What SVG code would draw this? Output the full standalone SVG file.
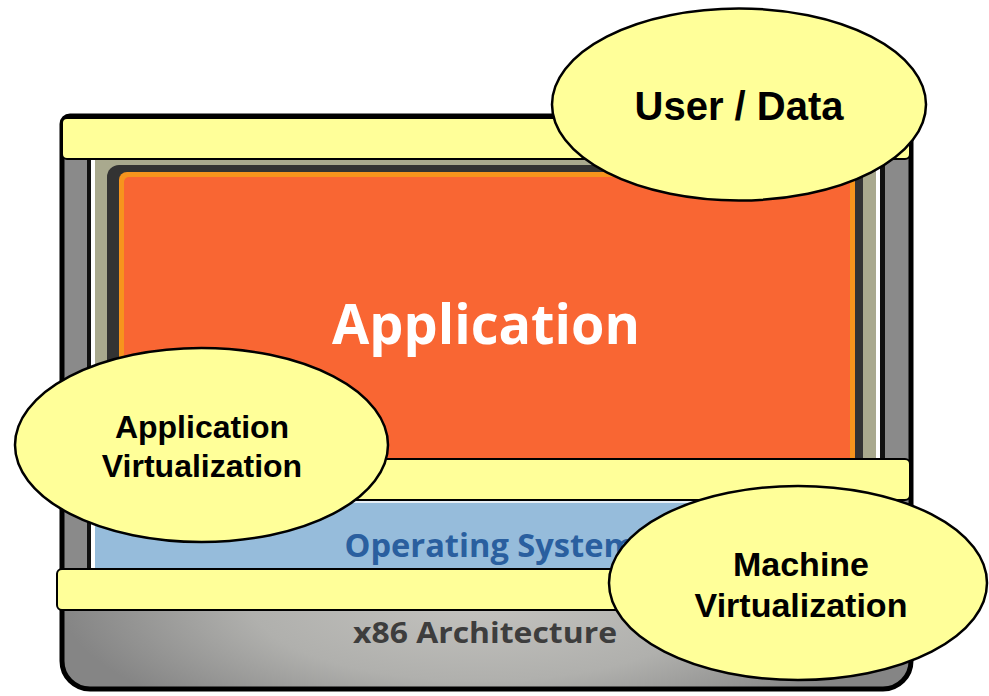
<svg xmlns="http://www.w3.org/2000/svg" width="989" height="696" viewBox="0 0 989 696">
<defs>
<style>
.bar{fill:#ffff99;stroke:#000;stroke-width:2}
.ell{fill:#ffff99;stroke:#000;stroke-width:2.5}
.lbl{font-family:"Liberation Sans",Arial,sans-serif;font-weight:bold;fill:#000;text-anchor:middle}
.layer{font-family:"Open Sans","Noto Sans",sans-serif;font-weight:bold;text-anchor:middle}
</style>
<radialGradient id="hw" gradientUnits="userSpaceOnUse" cx="480" cy="600" r="420" gradientTransform="translate(480 600) scale(1 0.35) translate(-480 -600)">
<stop offset="0" stop-color="#c4c3bf"/>
<stop offset="0.55" stop-color="#b0b0ad"/>
<stop offset="1" stop-color="#858585"/>
</radialGradient>
</defs>
<rect width="989" height="696" fill="#fff"/>
<g id="machine">
<path d="M70 116 H903 A8 8 0 0 1 911 124 V661 A28 28 0 0 1 883 689 H90 A28 28 0 0 1 62 661 V124 A8 8 0 0 1 70 116 Z" fill="#8a8a8a"/>
<path d="M62 610 H911 V661 A28 28 0 0 1 883 689 H90 A28 28 0 0 1 62 661 Z" fill="url(#hw)"/>
<rect x="87" y="158" width="4" height="412" fill="#111"/>
<rect x="91" y="158" width="4" height="412" fill="#fff"/>
<rect x="880" y="158" width="5" height="412" fill="#111"/>
<rect x="876" y="158" width="4" height="412" fill="#fff"/>
<path d="M70 116 H903 A8 8 0 0 1 911 124 V661 A28 28 0 0 1 883 689 H90 A28 28 0 0 1 62 661 V124 A8 8 0 0 1 70 116 Z" fill="none" stroke="#000" stroke-width="5"/>
</g>
<g id="application">
<rect x="95" y="158" width="781" height="302" fill="#a9a98e"/>
<path d="M107 459 V177 A12 12 0 0 1 119 165 H851 A12 12 0 0 1 863 177 V459 Z" fill="#333"/>
<path d="M119 459 V180 A8 8 0 0 1 127 172 H847 A8 8 0 0 1 855 180 V459 Z" fill="#f7941d"/>
<path d="M124 459 V182 A5 5 0 0 1 129 177 H845 A5 5 0 0 1 850 182 V459 Z" fill="#f96633"/>
<text class="layer" x="486" y="344" font-size="55" fill="#fff" textLength="308" lengthAdjust="spacingAndGlyphs">Application</text>
</g>
<g id="os">
<rect x="95" y="500" width="785" height="69" fill="#96bcdb"/>
<rect x="95" y="500" width="785" height="3" fill="#e6eef5"/>
<text class="layer" x="490" y="557" font-size="33" fill="#2a5f9f" textLength="291" lengthAdjust="spacingAndGlyphs">Operating System</text>
</g>
<g id="x86">
<text class="layer" x="485" y="643" font-size="29" fill="#3d3d3d" textLength="264" lengthAdjust="spacingAndGlyphs">x86 Architecture</text>
</g>
<g id="bars">
<rect class="bar" x="62" y="118" width="848" height="41" rx="5"/>
<rect class="bar" x="62" y="459" width="848" height="41" rx="5"/>
<rect class="bar" x="57" y="569" width="853" height="41" rx="5"/>
</g>
<g id="user-data">
<ellipse class="ell" cx="739" cy="104.5" rx="187" ry="96"/>
<text class="lbl" x="739" y="120" font-size="40">User / Data</text>
</g>
<g id="app-virt">
<ellipse class="ell" cx="201.5" cy="445" rx="186.5" ry="97"/>
<text class="lbl" x="202" y="438" font-size="32">Application</text>
<text class="lbl" x="202" y="477" font-size="32">Virtualization</text>
</g>
<g id="machine-virt">
<ellipse class="ell" cx="798" cy="583" rx="189" ry="97"/>
<text class="lbl" x="801" y="576" font-size="34">Machine</text>
<text class="lbl" x="801" y="617" font-size="34">Virtualization</text>
</g>
<g id="connectors"/>
</svg>
